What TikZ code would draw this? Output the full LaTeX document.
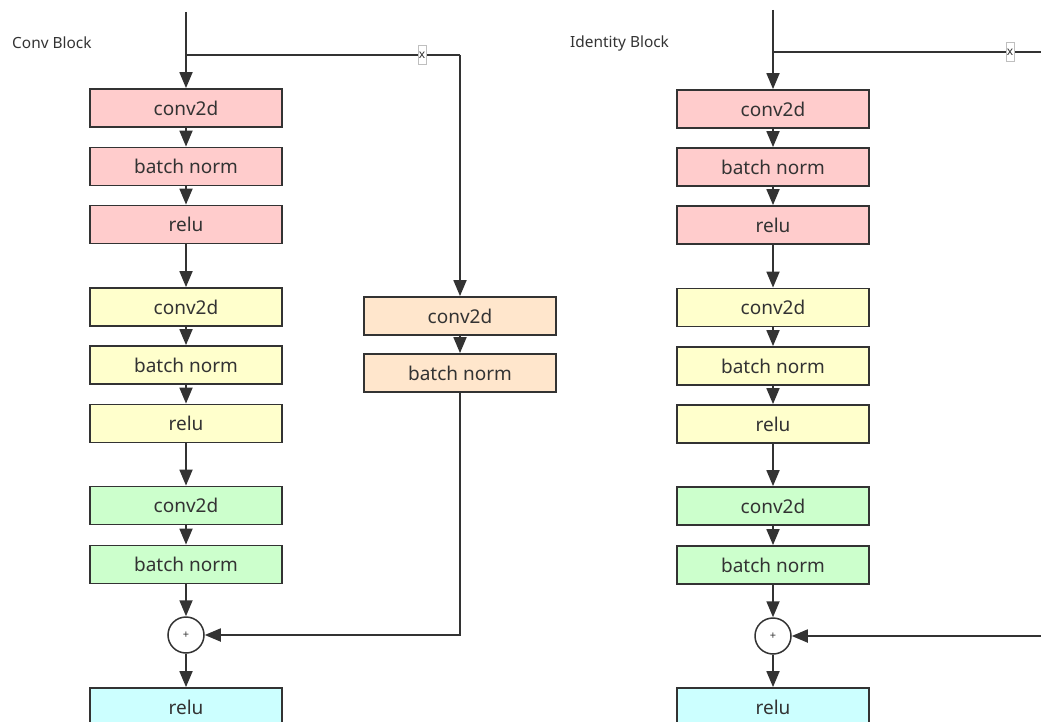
\documentclass[tikz,border=0pt]{standalone}
\usepackage{fontspec}
\setmainfont{Noto Sans}
\usetikzlibrary{arrows.meta,positioning}
\definecolor{txt}{HTML}{333333}
\definecolor{pinkc}{HTML}{FFCCCC}
\definecolor{yellowc}{HTML}{FFFFCC}
\definecolor{greenc}{HTML}{CCFFCC}
\definecolor{orangec}{HTML}{FFE6CC}
\definecolor{cyanc}{HTML}{CCFFFF}
\tikzset{
  blk/.style={draw=txt, line width=1.8pt, minimum width=192pt, minimum height=38pt, inner sep=0pt, text=txt, font=\fontsize{19}{22}\selectfont},
  pinkb/.style={blk, fill=pinkc},
  yelb/.style={blk, fill=yellowc},
  greb/.style={blk, fill=greenc},
  orab/.style={blk, fill=orangec},
  cyab/.style={blk, fill=cyanc},
  plusc/.style={draw=txt, circle, line width=1.5pt, minimum size=36pt, inner sep=0pt, fill=white, text=txt, font=\fontsize{11}{12}\selectfont},
  conn/.style={draw=txt, line width=1.8pt, -{Triangle[width=13pt,length=16pt]}},
  wire/.style={draw=txt, line width=1.8pt},
  xmark/.style={draw=black!25, fill=white, line width=0.6pt, minimum width=8pt, minimum height=19pt, inner sep=0pt, text=txt, font=\fontsize{12}{12}\selectfont},
  lbl/.style={text=txt, font=\fontsize{15.4}{18}\selectfont, anchor=west, inner sep=0pt}
}
\begin{document}
\begin{tikzpicture}[x=1pt,y=-1pt]
\useasboundingbox (0,0) rectangle (1041,722);
\clip (0,0) rectangle (1041,722);
% ---------- Conv Block ----------
\node[lbl] (t1) at (12,43) {Conv Block};
\coordinate (in1) at (186,12);
\coordinate (sp1) at (186,55);
\node[pinkb] (a1) at (186,108) {conv2d};
\node[pinkb] (a2) at (186,166.5) {batch norm};
\node[pinkb] (a3) at (186,224.5) {relu};
\node[yelb] (a4) at (186,307) {conv2d};
\node[yelb] (a5) at (186,365) {batch norm};
\node[yelb] (a6) at (186,423.5) {relu};
\node[greb] (a7) at (186,505.5) {conv2d};
\node[greb] (a8) at (186,564.5) {batch norm};
\node[plusc] (p1) at (186,635) {+};
\node[cyab] (a9) at (186,707) {relu};
\node[orab] (o1) at (460,316) {conv2d};
\node[orab] (o2) at (460,373) {batch norm};
\draw[conn] (in1) -- (a1);
\draw[wire] (sp1) -- (460,55);
\draw[conn] (460,55) -- (o1);
\node[xmark] (x1) at (422,55) {x};
\draw[conn] (a1) -- (a2);
\draw[conn] (a2) -- (a3);
\draw[conn] (a3) -- (a4);
\draw[conn] (a4) -- (a5);
\draw[conn] (a5) -- (a6);
\draw[conn] (a6) -- (a7);
\draw[conn] (a7) -- (a8);
\draw[conn] (a8) -- (p1);
\draw[conn] (p1) -- (a9);
\draw[conn] (o1) -- (o2);
\draw[conn] (o2.south) |- (p1.east);
% ---------- Identity Block ----------
\node[lbl] (t2) at (570,43) {Identity Block};
\coordinate (in2) at (773,10);
\coordinate (sp2) at (773,52);
\coordinate (e2) at (1045,52);
\coordinate (f2) at (1045,636);
\node[pinkb] (b1) at (773,109) {conv2d};
\node[pinkb] (b2) at (773,167) {batch norm};
\node[pinkb] (b3) at (773,225) {relu};
\node[yelb] (b4) at (773,307.5) {conv2d};
\node[yelb] (b5) at (773,366) {batch norm};
\node[yelb] (b6) at (773,424) {relu};
\node[greb] (b7) at (773,506) {conv2d};
\node[greb] (b8) at (773,565) {batch norm};
\node[plusc] (p2) at (773,636) {+};
\node[cyab] (b9) at (773,707) {relu};
\draw[conn] (in2) -- (b1);
\draw[wire] (sp2) -- (e2);
\node[xmark] (x2) at (1010,52) {x};
\draw[conn] (b1) -- (b2);
\draw[conn] (b2) -- (b3);
\draw[conn] (b3) -- (b4);
\draw[conn] (b4) -- (b5);
\draw[conn] (b5) -- (b6);
\draw[conn] (b6) -- (b7);
\draw[conn] (b7) -- (b8);
\draw[conn] (b8) -- (p2);
\draw[conn] (p2) -- (b9);
\draw[conn] (f2) -- (p2);
\end{tikzpicture}
\end{document}
